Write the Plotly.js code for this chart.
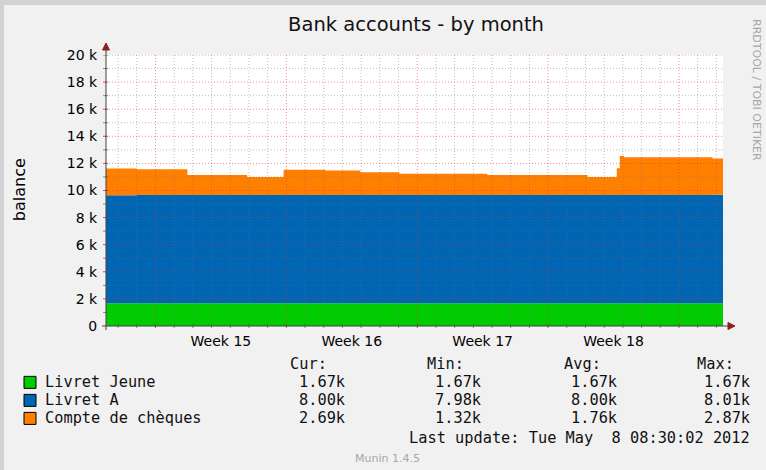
<!DOCTYPE html>
<html>
<head>
<meta charset="utf-8">
<script src="https://cdn.plot.ly/plotly-3.0.1.min.js"></script>
<style>
html,body{margin:0;padding:0;background:#f1f1f1;}
#chart{width:766px;height:470px;}
</style>
</head>
<body>
<div id="chart"></div>
<script>
// ---- data ----
const times = ['2012-04-05 08:30','2012-04-07 00:00','2012-04-09 17:00','2012-04-12 21:30','2012-04-14 20:30','2012-04-17 02:00','2012-04-18 23:00','2012-04-21 01:00','2012-04-25 18:00','2012-05-01 02:30','2012-05-02 16:10','2012-05-02 20:00','2012-05-03 01:30','2012-05-07 19:00','2012-05-08 08:30'];
const livretJeune = [1670,1670,1670,1670,1670,1670,1670,1670,1670,1670,1670,1670,1670,1670,1670];
const livretA = [7980,7990,8000,8000,8000,8000,8000,8000,8000,8000,8000,8000,8000,8010,8010];
const compteCheques = [1970,1900,1480,1330,1870,1800,1680,1560,1480,1320,1970,2870,2790,2690,2690];

const seriesNames = ['Livret Jeune','Livret A','Compte de chèques'];
const seriesColors = ['#00CC00','#0066B3','#FF8000'];
const curVals = ['1.67k','8.00k','2.69k'];
const minVals = ['1.67k','7.98k','1.32k'];
const avgVals = ['1.67k','8.00k','1.76k'];
const maxVals = ['1.67k','8.01k','2.87k'];
const yTickVals = [0,2000,4000,6000,8000,10000,12000,14000,16000,18000,20000];
const yTickText = ['0','2 k','4 k','6 k','8 k','10 k','12 k','14 k','16 k','18 k','20 k'];

// ---- layout geometry (pixels) ----
const W = 766, H = 470;
const L = 106, R = 723, T = 55, B = 325.7;
const xp = p => (p - L) / (R - L);
const yp = p => (B - p) / (B - T);

const seriesData = [livretJeune, livretA, compteCheques];
const traces = seriesNames.map((n, i) => ({
  x: times, y: seriesData[i], name: n, type: 'scatter', mode: 'lines',
  stackgroup: 'one', line: {width: 0, shape: 'hv', color: seriesColors[i]},
  fillcolor: seriesColors[i], hoverinfo: 'skip'
}));

const shapes = [];
const gridRed = 'rgba(230,50,50,0.55)', gridGray = 'rgba(110,110,110,0.45)';
// vertical grid (daily gray, weekly red)
const dayMs = 86400000;
const gStart = Date.UTC(2012,3,6), gEnd = Date.UTC(2012,4,8);
for (let d = gStart; d <= gEnd; d += dayMs) {
  const dt = new Date(d);
  const isWeek = dt.getUTCDay() === 0;
  const iso = dt.toISOString().slice(0,10);
  shapes.push({type:'line', xref:'x', yref:'paper', x0:iso, x1:iso, y0:0, y1:1, layer:'above',
    line:{color: isWeek ? gridRed : gridGray, width:1, dash:'1px,2px'}});
  shapes.push({type:'line', xref:'x', yref:'paper', x0:iso, x1:iso, y0:yp(B-2), y1:yp(B+2), layer:'above',
    line:{color: isWeek ? 'rgba(200,40,40,0.8)' : 'rgba(90,90,90,0.7)', width:1}});
}
// horizontal grid
for (let v = 1000; v <= 20000; v += 1000) {
  const major = v % 2000 === 0;
  shapes.push({type:'line', xref:'paper', yref:'y', x0:0, x1:1, y0:v, y1:v, layer:'above',
    line:{color: major ? gridRed : gridGray, width:1, dash:'1px,2px'}});
  shapes.push({type:'line', xref:'paper', yref:'y', x0:xp(L-3), x1:xp(L+2), y0:v, y1:v, layer:'above',
    line:{color: major ? 'rgba(200,40,40,0.8)' : 'rgba(90,90,90,0.7)', width:1}});
}
// axes lines
shapes.push({type:'line', xref:'paper', yref:'paper', x0:xp(L), x1:xp(L), y0:yp(B+4), y1:yp(47), layer:'above', line:{color:'#404040', width:1}});
shapes.push({type:'line', xref:'paper', yref:'paper', x0:xp(L-4), x1:xp(730), y0:0, y1:0, layer:'above', line:{color:'#404040', width:1}});
// arrows
shapes.push({type:'path', xref:'paper', yref:'paper', layer:'above',
  path:`M ${xp(L-3.5)} ${yp(50)} L ${xp(L+3.5)} ${yp(50)} L ${xp(L)} ${yp(43)} Z`,
  fillcolor:'#8e1f1f', line:{color:'#8e1f1f', width:1}});
shapes.push({type:'path', xref:'paper', yref:'paper', layer:'above',
  path:`M ${xp(728)} ${yp(B-3.5)} L ${xp(728)} ${yp(B+3.5)} L ${xp(735)} ${yp(B)} Z`,
  fillcolor:'#8e1f1f', line:{color:'#8e1f1f', width:1}});
// frame stripes
shapes.push({type:'rect', xref:'paper', yref:'paper', x0:xp(0), x1:xp(W), y0:yp(0), y1:yp(5), fillcolor:'#d2d2d2', line:{width:0}, layer:'below'});
shapes.push({type:'rect', xref:'paper', yref:'paper', x0:xp(0), x1:xp(4), y0:yp(0), y1:yp(H), fillcolor:'#d2d2d2', line:{width:0}, layer:'below'});

const mono = 'DejaVu Sans Mono';
const monoSize = 15.3;
const annotations = [];
const rowsY = [382, 400, 418];
seriesNames.forEach((n, i) => {
  shapes.push({type:'rect', xref:'paper', yref:'paper', x0:xp(24), x1:xp(36), y0:yp(rowsY[i]+6), y1:yp(rowsY[i]-6),
    fillcolor: seriesColors[i], line:{color:'#000', width:1}});
  annotations.push({text:n, x:xp(44), y:yp(rowsY[i]), xanchor:'left', yanchor:'middle'});
  [curVals, minVals, avgVals, maxVals].forEach((arr, j) => {
    annotations.push({text:arr[i], x:xp([346,482,618,751][j]), y:yp(rowsY[i]), xanchor:'right', yanchor:'middle'});
  });
});
['Cur:','Min:','Avg:','Max:'].forEach((h, j) => {
  annotations.push({text:h, x:xp([289,426,563,696][j]), y:yp(364), xanchor:'left', yanchor:'middle'});
});
annotations.push({text:'Last update: Tue May\u00a0\u00a08 08:30:02 2012', x:xp(751), y:yp(438), xanchor:'right', yanchor:'middle'});
annotations.forEach(a => { a.xref = 'paper'; a.yref = 'paper'; a.showarrow = false; a.font = {family: mono, size: monoSize, color: '#111'}; a.borderpad = 0; });

annotations.push({text:'Munin 1.4.5', xref:'paper', yref:'paper', x:xp(387), y:yp(458), showarrow:false, xanchor:'center', yanchor:'middle',
  font:{family:'DejaVu Sans', size:11, color:'#a8a8a8'}});
annotations.push({text:'balance', xref:'paper', yref:'paper', x:xp(19), y:yp(190), showarrow:false, textangle:-90, xanchor:'center', yanchor:'middle',
  font:{family:'DejaVu Sans', size:16, color:'#000'}});
annotations.push({text:'RRDTOOL / TOBI OETIKER', xref:'paper', yref:'paper', x:xp(757), y:yp(90), showarrow:false, textangle:90, xanchor:'center', yanchor:'middle',
  font:{family:'DejaVu Sans', size:11, color:'#a8a8a8'}});

const layout = {
  width: W, height: H,
  margin: {l: L, r: W - R, t: T, b: H - B, pad: 0},
  paper_bgcolor: '#f1f1f1', plot_bgcolor: '#ffffff',
  showlegend: false,
  title: {text: 'Bank accounts - by month', x: 416 / W, xanchor: 'center', y: 1 - 24 / H, yanchor: 'middle',
    font: {family: 'DejaVu Sans', size: 19.5, color: '#111'}},
  xaxis: {type: 'date', range: ['2012-04-05 08:30', '2012-05-08 08:30'], showgrid: false, zeroline: false, showline: false,
    tickmode: 'linear', tick0: '2012-04-08', dtick: 7 * dayMs, ticklabelmode: 'period', tickformat: 'Week %U',
    ticks: 'outside', ticklen: 2, tickcolor: 'rgba(0,0,0,0)', tickfont: {family: 'DejaVu Sans', size: 14, color: '#000'}},
  yaxis: {range: [0, 20000], showgrid: false, zeroline: false, showline: false, tickmode: 'array',
    tickvals: yTickVals, ticktext: yTickText, ticks: 'outside', ticklen: 5, tickcolor: 'rgba(0,0,0,0)',
    tickfont: {family: 'DejaVu Sans', size: 14, color: '#000'}},
  shapes: shapes, annotations: annotations
};
Plotly.newPlot('chart', traces, layout, {staticPlot: true, displayModeBar: false});
</script>
</body>
</html>
